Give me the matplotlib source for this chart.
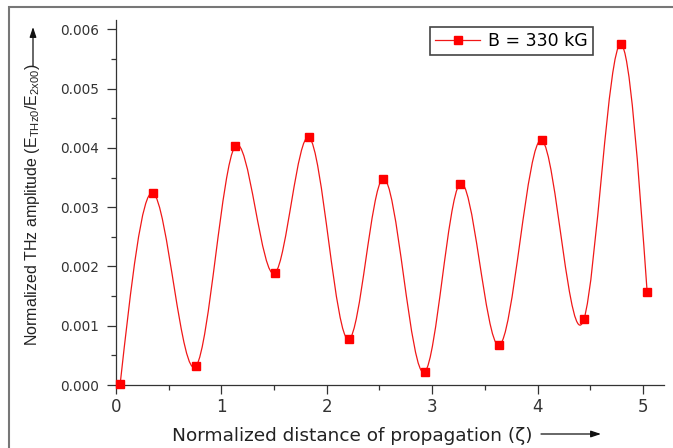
import numpy as np
import matplotlib
matplotlib.use("Agg")
import matplotlib.pyplot as plt
from matplotlib.path import Path
from matplotlib.patches import PathPatch, Rectangle, FancyArrowPatch
from matplotlib.lines import Line2D
from matplotlib.ticker import MultipleLocator, FormatStrFormatter

# DATA
zeta = [0.04, 0.35, 0.76, 1.13, 1.51, 1.83, 2.21, 2.53, 2.93, 3.26, 3.63, 4.04, 4.44, 4.79, 5.04]
amplitude = [0.000025, 0.00324, 0.00032, 0.00403, 0.00189, 0.00418, 0.00077, 0.00348,
             0.00022, 0.00339, 0.00067, 0.00413, 0.00111, 0.00575, 0.00157]
series_label = "B = 330 kG"
xticks = [0, 1, 2, 3, 4, 5]
yticks = [0.000, 0.001, 0.002, 0.003, 0.004, 0.005, 0.006]

plt.rcParams['mathtext.fontset'] = 'custom'
plt.rcParams['mathtext.rm'] = 'Liberation Sans'
plt.rcParams['mathtext.it'] = 'Liberation Sans:italic'


def spline_path(xs, ys):
    # natural cubic spline through the points, written as bezier segments
    xs = np.asarray(xs, float)
    ys = np.asarray(ys, float)
    n = len(xs)
    h = np.diff(xs)
    A = np.zeros((n, n))
    b = np.zeros(n)
    A[0, 0] = 1
    A[-1, -1] = 1
    for i in range(1, n - 1):
        A[i, i - 1] = h[i - 1]
        A[i, i] = 2 * (h[i - 1] + h[i])
        A[i, i + 1] = h[i]
        b[i] = 6 * ((ys[i + 1] - ys[i]) / h[i] - (ys[i] - ys[i - 1]) / h[i - 1])
    M = np.linalg.solve(A, b)
    m = np.zeros(n)
    for i in range(n - 1):
        m[i] = (ys[i + 1] - ys[i]) / h[i] - h[i] * (2 * M[i] + M[i + 1]) / 6
    m[-1] = (ys[-1] - ys[-2]) / h[-1] + h[-1] * (M[-2] + 2 * M[-1]) / 6

    verts = [(xs[0], ys[0])]
    codes = [Path.MOVETO]
    for i in range(n - 1):
        d = h[i] / 3
        verts += [(xs[i] + d, ys[i] + d * m[i]),
                  (xs[i + 1] - d, ys[i + 1] - d * m[i + 1]),
                  (xs[i + 1], ys[i + 1])]
        codes += [Path.CURVE4] * 3
    return Path(verts, codes)


W, H = 673, 448
fig = plt.figure(figsize=(W / 100, H / 100), dpi=100)
ax = fig.add_axes([116 / W, 1 - 385 / H, (664 - 116) / W, (385 - 20) / H])

red = '#ff0000'
ax.add_patch(PathPatch(spline_path(zeta, amplitude), facecolor='none',
                       edgecolor='#f01818', lw=0.9))
ax.plot(zeta, amplitude, linestyle='none', marker='s', ms=5.4, color=red,
        mec=red, clip_on=False, zorder=3)

ax.set_xlim(0, 5.2)
ax.set_ylim(0, 0.00616)

for s in ['top', 'right']:
    ax.spines[s].set_visible(False)
for s in ['left', 'bottom']:
    ax.spines[s].set_color('#333333')
    ax.spines[s].set_linewidth(0.9)

ax.set_xticks(xticks)
ax.set_yticks(yticks)
ax.xaxis.set_minor_locator(MultipleLocator(0.5))
ax.yaxis.set_minor_locator(MultipleLocator(0.0005))
ax.yaxis.set_major_formatter(FormatStrFormatter('%.3f'))
ax.tick_params(which='major', direction='out', length=6.5, width=0.9, color='#333333')
ax.tick_params(which='minor', direction='out', length=3.5, width=0.9, color='#333333')
ax.tick_params(axis='x', which='major', labelsize=12, pad=2.5, labelcolor='#333333')
ax.tick_params(axis='y', which='major', labelsize=9.8, pad=5.5, labelcolor='#333333')

handle = Line2D([], [], color='#f01818', lw=0.9, marker='s', ms=5.4,
                mfc=red, mec=red)
ax.legend([handle], [series_label], loc='upper right',
          bbox_to_anchor=(593 / W, 1 - 27 / H), bbox_transform=fig.transFigure,
          borderaxespad=0, fancybox=False, framealpha=1, edgecolor='#444444',
          fontsize=12.5, handlelength=2.6, handletextpad=0.45, borderpad=0.3)
ax.get_legend().get_frame().set_linewidth(1.2)

# axis titles with their arrows
fig.text(33 / W, 1 - 205 / H,
         r'Normalized THz amplitude (E$_{\rm THz0}$/E$_{\rm 2x00}$)',
         rotation=90, ha='center', va='center', fontsize=11.5,
         family='Liberation Sans', color='#222222')
fig.text(352 / W, 1 - 436 / H, 'Normalized distance of propagation (ζ)',
         ha='center', va='center', fontsize=13.3, color='#222222')

arrow = dict(arrowstyle='-|>,head_length=0.6,head_width=0.2', color='#111111',
             lw=0.9, shrinkA=0, shrinkB=0)
fig.add_artist(FancyArrowPatch(
    (33 / W, 1 - 66 / H), (33 / W, 1 - 27 / H), transform=fig.transFigure,
    mutation_scale=10, **arrow))
fig.add_artist(FancyArrowPatch(
    (541 / W, 1 - 434 / H), (601 / W, 1 - 434 / H), transform=fig.transFigure,
    mutation_scale=10, **arrow))

# outer frame of the picture
fig.add_artist(Rectangle((9 / W, -0.1), 2, 1.1 - 7 / H, transform=fig.transFigure,
                         fill=False, edgecolor='#777777', lw=1.5))

fig.savefig('out.png', dpi=100)
